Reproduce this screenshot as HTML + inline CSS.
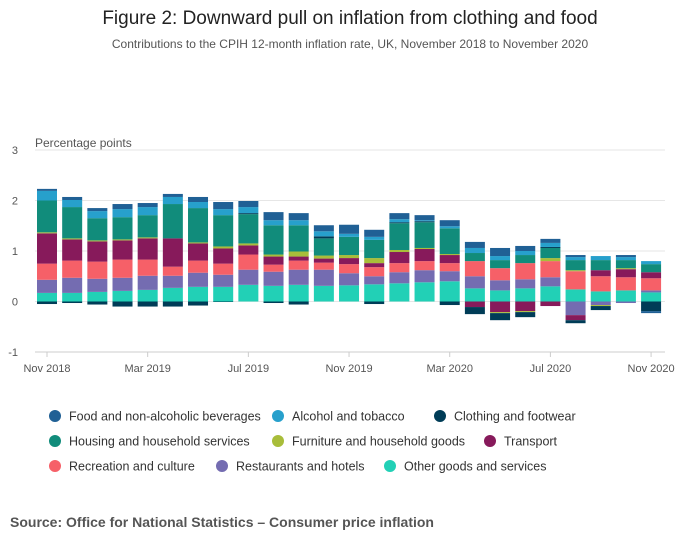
<!DOCTYPE html>
<html><head><meta charset="utf-8"><style>
body{margin:0;background:#fff;font-family:"Liberation Sans",sans-serif;}
svg text{font-family:"Liberation Sans",sans-serif;}
</style></head><body>
<svg id="c" width="700" height="549">
<text x="350" y="24" text-anchor="middle" font-size="19" fill="#222">Figure 2: Downward pull on inflation from clothing and food</text>
<text x="350" y="48" text-anchor="middle" font-size="12" fill="#555">Contributions to the CPIH 12-month inflation rate, UK, November 2018 to November 2020</text>
<text x="35" y="147" font-size="12" fill="#555">Percentage points</text>
<text x="10" y="527" font-size="14" font-weight="bold" fill="#555">Source: Office for National Statistics – Consumer price inflation</text>
<g id="grid"></g><g id="bars"></g><g id="axis"></g><g id="legend"></g>
</svg>
<script>
const months=["Nov 2018","Dec 2018","Jan 2019","Feb 2019","Mar 2019","Apr 2019","May 2019","Jun 2019","Jul 2019","Aug 2019","Sep 2019","Oct 2019","Nov 2019","Dec 2019","Jan 2020","Feb 2020","Mar 2020","Apr 2020","May 2020","Jun 2020","Jul 2020","Aug 2020","Sep 2020","Oct 2020","Nov 2020"];
const seriesNames=["Other goods and services","Restaurants and hotels","Recreation and culture","Transport","Furniture and household goods","Housing and household services","Clothing and footwear","Alcohol and tobacco","Food and non-alcoholic beverages"];
const other=[.17,.17,.19,.21,.23,.27,.29,.29,.33,.31,.33,.31,.32,.34,.36,.38,.40,.26,.22,.26,.30,.24,.20,.22,.18];
const restaurants=[.26,.30,.26,.26,.28,.24,.28,.24,.30,.28,.30,.32,.24,.16,.22,.24,.20,.24,.20,.18,.18,-.27,-.07,-.03,.04];
const recreation=[.32,.34,.34,.36,.32,.18,.24,.22,.30,.14,.18,.14,.18,.18,.18,.18,.16,.30,.24,.32,.32,.36,.30,.26,.24];
const transport=[.60,.42,.40,.38,.42,.56,.34,.30,.18,.16,.08,.08,.12,.08,.22,.24,.16,-.11,-.21,-.19,-.09,-.10,.12,.16,.12];
const furniture=[.02,.02,.02,.02,.02,0,.02,.04,.04,.04,.10,.06,.06,.10,.04,.02,.02,0,-.02,-.02,.06,.02,-.02,.02,0];
const housing=[.63,.62,.44,.44,.44,.68,.68,.62,.58,.58,.52,.34,.36,.36,.53,.51,.51,.16,.16,.16,.20,.20,.20,.16,.16];
const clothing=[-.05,-.03,-.06,-.10,-.10,-.10,-.08,-.01,.02,-.03,-.06,.04,0,-.05,.02,.02,-.07,-.14,-.14,-.10,.02,-.06,-.08,0,-.19];
const alcohol=[.19,.14,.14,.16,.16,.14,.12,.12,.12,.10,.10,.10,.06,.06,.06,.02,.04,.10,.08,.08,.08,.06,.08,.06,.06];
const food=[.04,.06,.06,.10,.08,.06,.10,.14,.12,.16,.14,.12,.18,.14,.12,.10,.12,.12,.16,.10,.08,.04,0,.04,-.04];
const yTicks=[3,2,1,0,-1];
const xTickLabels=["Nov 2018","Mar 2019","Jul 2019","Nov 2019","Mar 2020","Jul 2020","Nov 2020"];
const data=[other,restaurants,recreation,transport,furniture,housing,clothing,alcohol,food];
const colors=["#22d0b6","#746cb1","#f66068","#871a5b","#a8bd3a","#118c7b","#003c57","#27a0cc","#206095"];
const NS="http://www.w3.org/2000/svg";
const y=v=>301.5-(v)*50.5;
const x=i=>47+i*25.17;
function mk(tag,attrs,parent){const e=document.createElementNS(NS,tag);for(const k in attrs)e.setAttribute(k,attrs[k]);parent.appendChild(e);return e;}
const grid=document.getElementById('grid');
yTicks.forEach(t=>{
  const l=mk('line',{x1:35,x2:665,y1:y(t),y2:y(t),stroke:t===-1?'#ccc':'#e6e6e6','stroke-width':1},grid);
  
  
  const tx=mk('text',{x:18,y:y(t)+4,'text-anchor':'end','font-size':11,fill:'#555'},grid);
  tx.textContent=t;
  
  
});
const bars=document.getElementById('bars');
months.forEach((m,i)=>{
  let pos=0,neg=0;
  data.forEach((s,k)=>{
    const v=s[i]; if(!v) return;
    let y0,y1;
    if(v>0){y0=pos;y1=pos+v;pos=y1;}else{y0=neg;y1=neg+v;neg=y1;}
    const r=mk('rect',{x:x(i)-10,width:20,y:Math.min(y(y0),y(y1)),height:Math.abs(y(y0)-y(y1)),fill:colors[k]},bars);
    
    
  });
});
const axis=document.getElementById('axis');
months.forEach((m,i)=>{
  const idx=xTickLabels.indexOf(m);
  if(idx<0) return;
  const tk=mk('line',{x1:x(i),x2:x(i),y1:352,y2:357,stroke:'#ccc'},axis);
  
  
  const t=mk('text',{x:x(i),y:372,'text-anchor':'middle','font-size':11,fill:'#555'},axis);
  t.textContent=m;
  
  
});
const legendOrder=[8,7,6,5,4,3,2,1,0];
const legX=[55,278,440,55,278,490,55,222,390];
const leg=document.getElementById('legend');
legendOrder.forEach((k,j)=>{
  const cx=legX[j],cy=416+Math.floor(j/3)*25;
  const g=mk('g',{},leg);
  
  
  mk('circle',{cx:cx,cy:cy,r:6,fill:colors[k]},g);
  const t=mk('text',{x:cx+14,y:cy+4.5,'font-size':12.5,fill:'#333'},g);
  t.textContent=seriesNames[k];
});
</script>
</body></html>
